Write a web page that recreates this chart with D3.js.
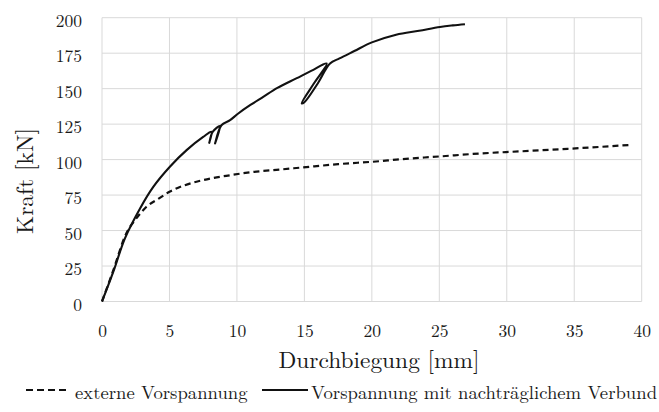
<!DOCTYPE html>
<html>
<head>
<meta charset="utf-8">
<script src="https://cdn.jsdelivr.net/npm/d3@7"></script>
<style>
  body { margin: 0; background: #fff; }
</style>
</head>
<body>
<div class="chart"></div>
<script>
// Kraft-Durchbiegungs-Kurven, Werte
var xTicks = [0, 5, 10, 15, 20, 25, 30, 35, 40];
var yTicks = [0, 25, 50, 75, 100, 125, 150, 175, 200];

// externe Vorspannung (gestrichelt)
var externD = [0, 0.8, 1.8, 2.5, 3.3, 4.2, 5.0, 6.0, 7.0, 8.2, 9.5, 11.2, 13.2, 14.9, 17.5, 20.6, 21.8, 25.0, 28.0, 31.0, 34.5, 37.0, 39.1];
var externF = [0, 21, 48, 58, 66.8, 72.5, 77.3, 81.5, 84.4, 87, 89, 91.3, 93, 94.5, 96.8, 98.9, 100, 102.2, 104.3, 105.8, 107.6, 109, 110.3];

// Vorspannung mit nachträglichem Verbund (durchgezogen)
var verbundD = [0, 0.84, 1.7, 2.82, 3.8, 5.03, 6.27, 7.5, 8.12, 7.95, 8.2, 8.74, 8.38, 8.85, 9.49, 10.1, 11.0, 11.95, 13.0, 14.4, 15.5, 16.65, 15.7, 14.8, 15.0, 16.0, 16.9, 17.6, 18.7, 20.0, 21.8, 23.5, 25.05, 26.0, 26.9];
var verbundF = [0, 21, 44.5, 65.6, 80.8, 95, 106.7, 116, 119.6, 111.8, 119.5, 123.6, 111.4, 124.2, 127.8, 132.5, 138.5, 144.2, 150.5, 157.2, 162.5, 167.7, 153.6, 139.6, 140.4, 153.8, 167.7, 171.3, 176.5, 182.6, 188, 190.8, 193.5, 194.6, 195.4];

var legendLabels = ["externe Vorspannung", "Vorspannung mit nachträglichem Verbund"];

var font = "'Latin Modern Roman', 'Liberation Serif', serif";

var svgWidth = 659;
var svgHeight = 412;

var margin = { top: 17.7, right: 17.3, bottom: 110.5, left: 102 };
var width = svgWidth - margin.left - margin.right;
var height = svgHeight - margin.top - margin.bottom;

var svg = d3.select(".chart")
  .append("svg")
  .attr("width", svgWidth)
  .attr("height", svgHeight);

var chartGroup = svg.append("g")
  .attr("transform", `translate(${margin.left}, ${margin.top})`);

var xScale = d3.scaleLinear().domain([0, 40]).range([0, width]);
var yScale = d3.scaleLinear().domain([0, 200]).range([height, 0]);

// grid lines
chartGroup.selectAll(".vgrid")
  .data(xTicks)
  .enter()
  .append("line")
  .attr("x1", d => xScale(d))
  .attr("x2", d => xScale(d))
  .attr("y1", 0)
  .attr("y2", height)
  .attr("stroke", "#d9d9d9")
  .attr("stroke-width", 1);

chartGroup.selectAll(".hgrid")
  .data(yTicks)
  .enter()
  .append("line")
  .attr("x1", 0)
  .attr("x2", width)
  .attr("y1", d => yScale(d))
  .attr("y2", d => yScale(d))
  .attr("stroke", "#d9d9d9")
  .attr("stroke-width", 1);

// axes (labels only)
var xAxis = d3.axisBottom(xScale).tickValues(xTicks).tickSize(0).tickPadding(23);
var yAxis = d3.axisLeft(yScale).tickValues(yTicks).tickSize(0).tickPadding(20);

var gx = chartGroup.append("g")
  .attr("transform", `translate(0, ${height})`)
  .call(xAxis);
var gy = chartGroup.append("g").call(yAxis);

[gx, gy].forEach(function(g) {
  g.select(".domain").remove();
  g.selectAll("text")
    .style("font-family", font)
    .style("font-size", "17.5px")
    .style("fill", "#1a1a1a");
});
gy.selectAll("text").attr("dy", "0.5em");

// axis titles
svg.append("text")
  .attr("x", 379)
  .attr("y", 368)
  .attr("text-anchor", "middle")
  .style("font-family", font)
  .style("font-size", "23.4px")
  .style("fill", "#1a1a1a")
  .text("Durchbiegung [mm]");

svg.append("text")
  .attr("transform", "translate(33, 181) rotate(-90)")
  .attr("text-anchor", "middle")
  .style("font-family", font)
  .style("font-size", "23.4px")
  .style("fill", "#1a1a1a")
  .text("Kraft [kN]");

// lines
var line = d3.line()
  .x(d => xScale(d[0]))
  .y(d => yScale(d[1]));

var externData = externD.map((d, i) => [d, externF[i]]);
var verbundData = verbundD.map((d, i) => [d, verbundF[i]]);

chartGroup.append("path")
  .datum(externData)
  .attr("d", line.curve(d3.curveMonotoneX))
  .attr("fill", "none")
  .attr("stroke", "#111")
  .attr("stroke-width", 2.2)
  .attr("stroke-dasharray", "6,4");

chartGroup.append("path")
  .datum(verbundData)
  .attr("d", line.curve(d3.curveCatmullRom.alpha(0.5)))
  .attr("fill", "none")
  .attr("stroke", "#111")
  .attr("stroke-width", 2.1)
  .attr("stroke-linejoin", "round");

// legend
var legend = svg.append("g").attr("transform", "translate(0, 390)");

legend.append("line")
  .attr("x1", 26).attr("x2", 68)
  .attr("y1", 0).attr("y2", 0)
  .attr("stroke", "#111")
  .attr("stroke-width", 2.2)
  .attr("stroke-dasharray", "7,4");

legend.append("text")
  .attr("x", 75)
  .attr("y", 8.5)
  .style("font-family", font)
  .style("font-size", "18.7px")
  .style("fill", "#1a1a1a")
  .text(legendLabels[0]);

legend.append("line")
  .attr("x1", 262).attr("x2", 308)
  .attr("y1", 0).attr("y2", 0)
  .attr("stroke", "#111")
  .attr("stroke-width", 2.1);

legend.append("text")
  .attr("x", 311)
  .attr("y", 8.5)
  .style("font-family", font)
  .style("font-size", "18.7px")
  .style("fill", "#1a1a1a")
  .text(legendLabels[1]);
</script>
</body>
</html>
